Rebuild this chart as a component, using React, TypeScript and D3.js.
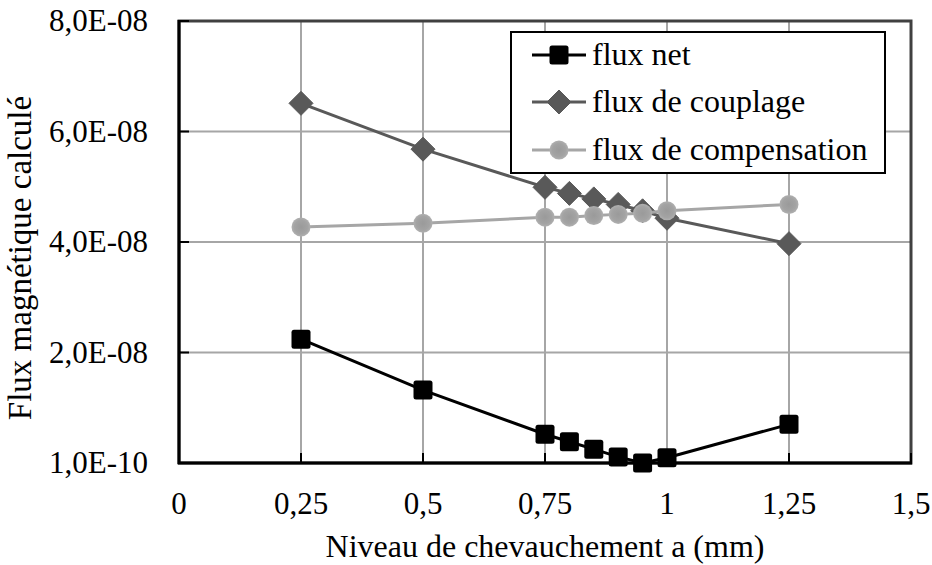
import React from "react";
import * as d3 from "d3";

const xValues = [0.25, 0.5, 0.75, 0.8, 0.85, 0.9, 0.95, 1.0, 1.25];
const fluxNet = [2.25e-8, 1.33e-8, 5.3e-9, 3.95e-9, 2.6e-9, 1.2e-9, 1e-10, 1.06e-9, 7.1e-9];
const fluxCouplage = [6.52e-8, 5.69e-8, 5.0e-8, 4.89e-8, 4.79e-8, 4.69e-8, 4.575e-8, 4.44e-8, 3.98e-8];
const fluxCompensation = [4.28e-8, 4.35e-8, 4.46e-8, 4.46e-8, 4.49e-8, 4.51e-8, 4.53e-8, 4.575e-8, 4.69e-8];
const xTicks = [0, 0.25, 0.5, 0.75, 1, 1.25, 1.5];
const yTicks = [1e-10, 2.01e-8, 4.01e-8, 6.01e-8, 8.01e-8];
const yTickLabels = ["1,0E-10", "2,0E-08", "4,0E-08", "6,0E-08", "8,0E-08"];
const seriesNames = ["flux net", "flux de couplage", "flux de compensation"];

const W = 932;
const H = 565;
const font = "Liberation Serif, Times New Roman, serif";

export default function App() {
  const x = d3.scaleLinear().domain([0, 1.5]).range([179, 911]);
  const y = d3.scaleLinear().domain([1e-10, 8.01e-8]).range([463, 21]);
  const line = d3
    .line<[number, number]>()
    .x((d) => x(d[0]))
    .y((d) => y(d[1]));

  const series = [
    { name: seriesNames[0], values: fluxNet, color: "#000000", marker: "square" },
    { name: seriesNames[1], values: fluxCouplage, color: "#595959", marker: "diamond" },
    { name: seriesNames[2], values: fluxCompensation, color: "#a6a6a6", marker: "circle" },
  ];

  const marker = (type: string, cx: number, cy: number, color: string, key: string) => {
    if (type === "square")
      return <rect key={key} x={cx - 9.5} y={cy - 9.5} width={19} height={19} rx={2.5} fill={color} />;
    if (type === "diamond")
      return (
        <path
          key={key}
          d={`M${cx},${cy - 12}L${cx + 12},${cy}L${cx},${cy + 12}L${cx - 12},${cy}Z`}
          fill={color}
          stroke={color}
          strokeWidth={1}
          strokeLinejoin="round"
        />
      );
    return <circle key={key} cx={cx} cy={cy} r={9.5} fill="url(#gradCirc)" />;
  };

  const fmtX = (v: number) => String(v).replace(".", ",");

  const legendX = 511;
  const legendY = 32;
  const legendRows = [55, 102, 150];

  return (
    <svg width={W} height={H} style={{ display: "block", position: "absolute", left: 0, top: 0 }}>
      <defs>
        <radialGradient id="gradCirc" cx="50%" cy="50%" r="50%">
          <stop offset="0%" stopColor="#9a9a9a" />
          <stop offset="70%" stopColor="#a3a3a3" />
          <stop offset="100%" stopColor="#b0b0b0" />
        </radialGradient>
      </defs>
      <rect x={0} y={0} width={W} height={H} fill="#ffffff" />
      {/* gridlines */}
      {xTicks.slice(1).map((t) => (
        <line key={"gx" + t} x1={x(t)} x2={x(t)} y1={21} y2={463} stroke="#a6a6a6" strokeWidth={2} />
      ))}
      {yTicks.slice(1).map((t) => (
        <line key={"gy" + t} x1={179} x2={911} y1={y(t)} y2={y(t)} stroke="#a6a6a6" strokeWidth={2} />
      ))}
      {/* plot frame */}
      <rect x={179} y={21} width={732} height={442} fill="none" stroke="#404040" strokeWidth={3} />
      {/* axes */}
      <line x1={179} x2={179} y1={20} y2={464} stroke="#000" strokeWidth={3} />
      <line x1={178} x2={912} y1={463} y2={463} stroke="#000" strokeWidth={3} />
      {xTicks.map((t) => (
        <line key={"tx" + t} x1={x(t)} x2={x(t)} y1={463} y2={453} stroke="#000" strokeWidth={2} />
      ))}
      {yTicks.map((t) => (
        <line key={"ty" + t} x1={179} x2={189} y1={y(t)} y2={y(t)} stroke="#000" strokeWidth={2} />
      ))}
      {/* tick labels */}
      {xTicks.map((t) => (
        <text key={"lx" + t} x={x(t)} y={514} textAnchor="middle" fontFamily={font} fontSize={31} fill="#000">
          {fmtX(t)}
        </text>
      ))}
      {yTicks.map((t, i) => (
        <text key={"ly" + t} x={148} y={y(t) + 10} textAnchor="end" fontFamily={font} fontSize={31} fill="#000">
          {yTickLabels[i]}
        </text>
      ))}
      {/* axis titles */}
      <text x={545} y={557} textAnchor="middle" fontFamily={font} fontSize={32} fill="#000">
        Niveau de chevauchement a (mm)
      </text>
      <text
        transform={`translate(31,258) rotate(-90)`}
        textAnchor="middle"
        fontFamily={font}
        fontSize={33}
        fill="#000"
      >
        Flux magnétique calculé
      </text>
      {/* series */}
      {series.map((s) => (
        <g key={s.name}>
          <path
            d={line(xValues.map((xv, i) => [xv, s.values[i]] as [number, number])) || ""}
            fill="none"
            stroke={s.color}
            strokeWidth={3}
          />
          {xValues.map((xv, i) => marker(s.marker, x(xv), y(s.values[i]), s.color, s.name + i))}
        </g>
      ))}
      {/* legend */}
      <rect x={legendX} y={legendY} width={374} height={141} fill="#fff" stroke="#000" strokeWidth={2} />
      {series.map((s, i) => (
        <g key={"leg" + s.name}>
          <line x1={532} x2={586} y1={legendRows[i]} y2={legendRows[i]} stroke={s.color} strokeWidth={3} />
          {marker(s.marker, 559, legendRows[i], s.color, "lm" + i)}
          <text x={592} y={legendRows[i] + 10} fontFamily={font} fontSize={32} fill="#000">
            {s.name}
          </text>
        </g>
      ))}
    </svg>
  );
}
